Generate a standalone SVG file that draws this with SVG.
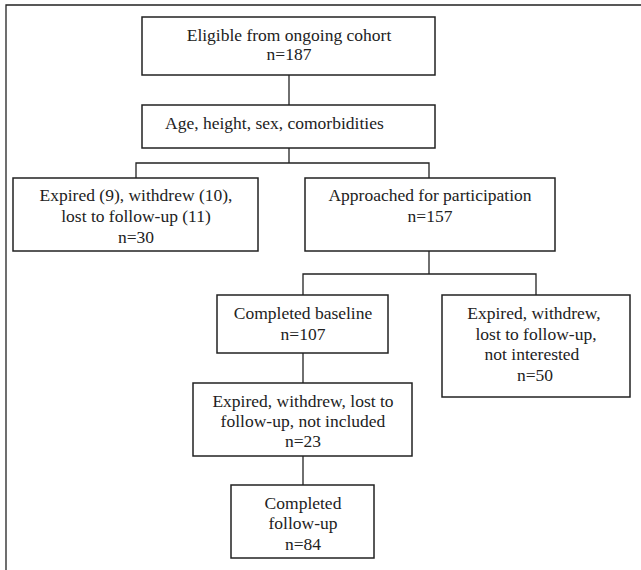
<svg xmlns="http://www.w3.org/2000/svg" width="641" height="570" viewBox="0 0 641 570">
<style>
.box{fill:#fff;stroke:#222;stroke-width:1.5}
.ln{stroke:#222;stroke-width:1.3;fill:none}
.t{font-family:"Liberation Serif","Times New Roman",serif;font-size:17.5px;fill:#222;text-anchor:middle}
</style>
<rect width="641" height="570" fill="#fff"/>
<path class="ln" d="M6,570 V5 H641" stroke-width="1.6"/>
<g id="connectors">
<path class="ln" d="M289,75 V105"/>
<path class="ln" d="M289,148 V163" stroke-width="2.4"/>
<path class="ln" d="M136,178 V163 H429 V178"/>
<path class="ln" d="M429,251 V274" stroke-width="2"/>
<path class="ln" d="M303,295 V274 H536 V295"/>
<path class="ln" d="M303,353 V383"/>
<path class="ln" d="M303,456 V485"/>
</g>
<g id="eligible">
<rect class="box" x="142" y="17" width="293" height="58"/>
<text class="t" x="289" y="41">Eligible from ongoing cohort</text>
<text class="t" x="289" y="60">n=187</text>
</g>
<g id="demographics">
<rect class="box" x="142" y="105" width="293" height="43"/>
<text class="t" x="165" y="129" style="text-anchor:start">Age, height, sex, comorbidities</text>
</g>
<g id="excluded1">
<rect class="box" x="13" y="178" width="245" height="73"/>
<text class="t" x="136" y="201">Expired (9), withdrew (10),</text>
<text class="t" x="136" y="222">lost to follow-up (11)</text>
<text class="t" x="136" y="243">n=30</text>
</g>
<g id="approached">
<rect class="box" x="305" y="178" width="250" height="73"/>
<text class="t" x="430" y="201">Approached for participation</text>
<text class="t" x="430" y="222">n=157</text>
</g>
<g id="baseline">
<rect class="box" x="217" y="295" width="171" height="58"/>
<text class="t" x="303" y="319">Completed baseline</text>
<text class="t" x="303" y="340">n=107</text>
</g>
<g id="excluded2">
<rect class="box" x="442" y="295" width="188" height="102"/>
<text class="t" x="534" y="319">Expired, withdrew,</text>
<text class="t" x="536" y="340">lost to follow-up,</text>
<text class="t" x="532" y="360">not interested</text>
<text class="t" x="535" y="381">n=50</text>
</g>
<g id="excluded3">
<rect class="box" x="193" y="383" width="219" height="73"/>
<text class="t" x="303" y="407">Expired, withdrew, lost to</text>
<text class="t" x="303" y="427">follow-up, not included</text>
<text class="t" x="303" y="447">n=23</text>
</g>
<g id="followup">
<rect class="box" x="231" y="485" width="143" height="73"/>
<text class="t" x="303" y="509">Completed</text>
<text class="t" x="303" y="529">follow-up</text>
<text class="t" x="303" y="550">n=84</text>
</g>
</svg>
